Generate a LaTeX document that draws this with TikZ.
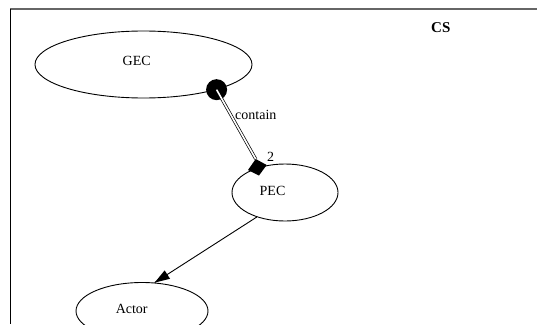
\documentclass[tikz,border=0pt]{standalone}
\usepackage{fontspec}
\setmainfont{Liberation Serif}
\usetikzlibrary{shapes.geometric}
\begin{document}
\begin{tikzpicture}[x=1pt,y=-1pt,
  ell/.style={draw, ellipse, line width=0.9pt, inner sep=0pt},
  lbl/.style={anchor=base, inner sep=0pt, font=\fontsize{14}{16}\selectfont},
  frame/.style={line width=0.9pt}]
\useasboundingbox (0,0) rectangle (537,324);
% frame
\draw[frame, gray!80!black, line width=1.4pt] (10,9) -- (537,9);
\draw[frame] (10,9) -- (10,324);
% ellipses
\node[ell, minimum width=217pt, minimum height=67pt] (GEC) at (143.5,64.5) {};
\node[ell, minimum width=106pt, minimum height=57pt] (PEC) at (285,192.5) {};
\node[ell, minimum width=132pt, minimum height=57pt] (Actor) at (142,311) {};
% labels
\node[lbl] (tGEC) at (136.7,65.3) {GEC};
\node[lbl] (tPEC) at (272.5,195) {PEC};
\node[lbl] (tActor) at (131.7,313.3) {Actor};
\node[lbl, font=\fontsize{15}{17}\selectfont\bfseries] (tCS) at (440.8,32.3) {CS};
% contain edge
\node[circle, fill=black, minimum size=21pt, inner sep=0pt] (dot) at (GEC.-19.6) {};
\coordinate (dm) at (257.3,167.2);
\coordinate (dmtop) at (255.7,159);
\draw[double, double distance=1.6pt, line width=0.7pt] (dot.center) -- (dmtop);
\fill[black] (255.7,159) -- (266.7,165) -- (259,175.5) -- (248,170) -- cycle;
\node[lbl, anchor=base west] (tcontain) at (235,119) {contain};
\node[lbl] (t2) at (270.5,161.7) {2};
% PEC -> Actor
\draw[line width=0.9pt] (PEC.-139.6) -- (Actor.66.6);
\fill[black] (Actor.66.6) -- +(15.4,-3.8) -- +(10,-12.2) -- cycle;
\end{tikzpicture}
\end{document}
